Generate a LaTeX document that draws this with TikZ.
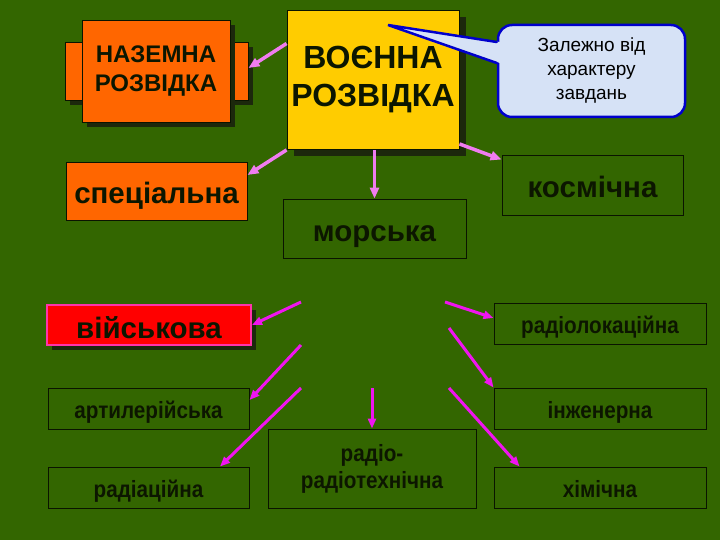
\documentclass[tikz,border=0pt]{standalone}
\usepackage{fontspec}
\setmainfont{Liberation Sans}
\newfontfamily\narrowfnt{Liberation Sans}[FakeStretch=0.88]
\usetikzlibrary{arrows.meta,shadows}
\definecolor{bgc}{RGB}{51,102,0}
\definecolor{orangec}{RGB}{255,102,0}
\definecolor{yellowc}{RGB}{255,204,0}
\definecolor{redc}{RGB}{255,0,0}
\definecolor{redb}{RGB}{255,51,170}
\definecolor{callfill}{RGB}{214,226,246}
\definecolor{callb}{RGB}{0,0,204}
\definecolor{txtd}{RGB}{12,22,0}
\definecolor{edgec}{RGB}{10,20,0}
\definecolor{shadc}{RGB}{28,40,12}
\definecolor{arrtop}{RGB}{240,124,240}
\definecolor{arrlow}{RGB}{240,20,240}
\begin{document}
\begin{tikzpicture}[x=1pt,y=-1pt,
  gbox/.style={draw=edgec, line width=0.9pt, inner sep=0pt, text=txtd, align=center},
  bigl/.style={font=\bfseries\fontsize{29.5}{33}\selectfont, text height=28pt, text depth=2pt},
  smalll/.style={font=\narrowfnt\bfseries\fontsize{23.5}{27}\selectfont},
  smallone/.style={smalll, text height=22pt, text depth=2pt},
  shad/.style={drop shadow={shadow xshift=#1, shadow yshift=-#1, fill=shadc, opacity=1}},
  toparrow/.style={draw=arrtop, line width=3.5pt, -{Triangle[length=11pt,width=9pt]}},
  lowarrow/.style={draw=arrlow, line width=3pt, -{Triangle[length=10pt,width=8pt]}}
]
\fill[bgc] (0,0) rectangle (720,540);
\useasboundingbox (0,0) rectangle (720,540);

% НАЗЕМНА РОЗВІДКА
\node[gbox, fill=orangec, shad=5pt, minimum width=17pt, minimum height=58pt] (nazl) at (73.5,71) {};
\node[gbox, fill=orangec, shad=5pt, minimum width=18pt, minimum height=58pt] (nazr) at (239,71) {};
\node[gbox, fill=orangec, shad=5pt, minimum width=148pt, minimum height=102pt,
      font=\bfseries\fontsize{24}{29}\selectfont] (naz) at (156,71) {НАЗЕМНА\\РОЗВІДКА};

% ВОЄННА РОЗВІДКА
\node[gbox, fill=yellowc, shad=6.5pt, minimum width=172pt, minimum height=139pt,
      font=\bfseries\fontsize{32}{38}\selectfont] (voen) at (373,80) {ВОЄННА\\РОЗВІДКА};

% callout
\node[draw=callb, line width=2.5pt, fill=callfill, rounded corners=14pt,
      minimum width=187pt, minimum height=92pt, inner sep=0pt, align=center,
      font=\fontsize{19}{24}\selectfont] (call) at (591.5,71) {Залежно від\\характеру\\завдань};
\coordinate (tip) at (388,25);
\fill[callfill] (tip) -- ([xshift=3pt,yshift=29pt]call.west) -- ([xshift=3pt,yshift=8pt]call.west) -- cycle;
\draw[callb, line width=2.5pt, line cap=round] ([yshift=29pt]call.west) -- (tip) -- ([yshift=8pt]call.west);

% second row
\node[gbox, fill=orangec, bigl, minimum width=181pt, minimum height=58pt] (spec) at (156.5,191) {спеціальна};
\node[gbox, bigl, minimum width=181pt, minimum height=60pt] (kosm) at (592.5,185) {космічна};
\node[gbox, bigl, minimum width=183pt, minimum height=59pt] (mors) at (374.5,228.5) {морська};

% lower boxes
\node[draw=redb, line width=2pt, fill=redc, text=txtd, inner sep=0pt, shad=5pt,
      minimum width=204pt, minimum height=40pt, bigl] (viysk) at (149,325) {військова};
\node[gbox, smallone, minimum width=212pt, minimum height=41pt] (radl) at (600,323.5) {радіолокаційна};
\node[gbox, smallone, minimum width=201pt, minimum height=41pt] (art) at (148.5,408.5) {артилерійська};
\node[gbox, smallone, minimum width=212pt, minimum height=41pt] (inzh) at (600,408.5) {інженерна};
\node[gbox, smallone, minimum width=201pt, minimum height=41pt] (radc) at (148.5,487.5) {радіаційна};
\node[gbox, smalll, minimum width=208pt, minimum height=79pt] (radt) at (372,468.5) {радіо-\\радіотехнічна};
\node[gbox, smallone, minimum width=212pt, minimum height=41pt] (khim) at (600,487.5) {хімічна};

% top arrows
\draw[toparrow] ([yshift=36.5pt]voen.west) -- ([yshift=3pt]nazr.east);
\draw[toparrow] (voen.south west) -- ([yshift=16pt]spec.east);
\draw[toparrow] (voen.south -| mors.north) -- (mors.north);
\draw[toparrow] ([yshift=6pt]voen.south east) -- ([yshift=-5pt]kosm.north west);

% lower arrows
\coordinate (s1) at (301,302);
\coordinate (s2) at (301,345);
\coordinate (s3) at (301,388);
\coordinate (s4) at (372,388);
\coordinate (s5) at (445,302);
\coordinate (s6) at (449,328);
\coordinate (s7) at (449,388);
\draw[lowarrow] (s1) -- (viysk.east);
\draw[lowarrow] (s2) -- ([yshift=8.5pt]art.east);
\draw[lowarrow] (s3) -- ([xshift=71.5pt]radc.north);
\draw[lowarrow] (s4) -- (radt.north);
\draw[lowarrow] (s5) -- ([yshift=5.5pt]radl.west);
\draw[lowarrow] (s6) -- (inzh.north west);
\draw[lowarrow] (s7) -- ([xshift=26pt]khim.north west);
\end{tikzpicture}
\end{document}
